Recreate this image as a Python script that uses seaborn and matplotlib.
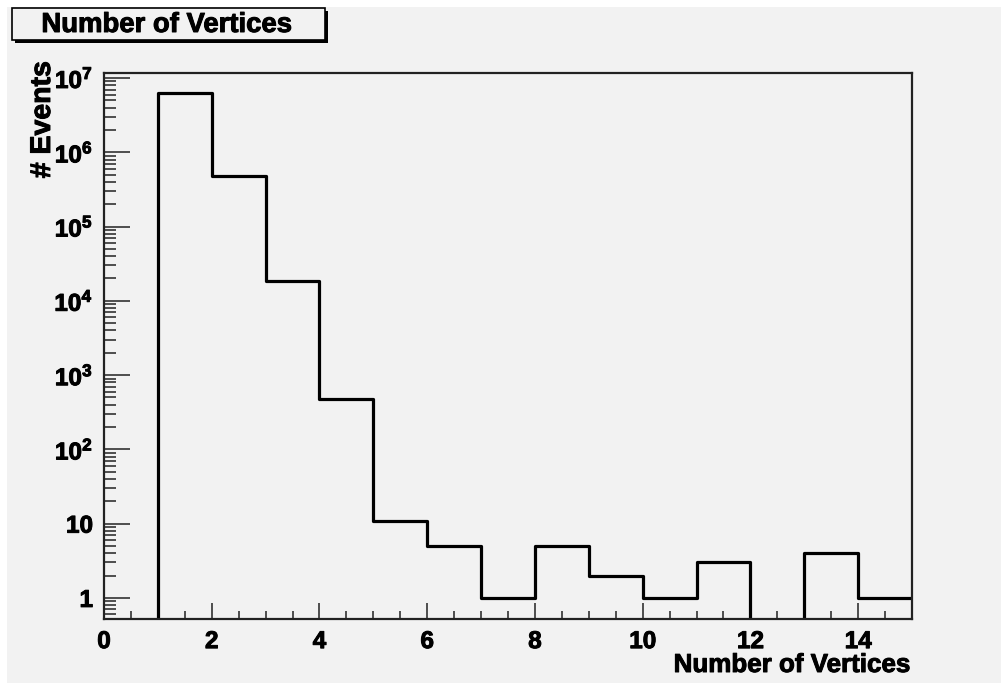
import matplotlib
matplotlib.use("Agg")
import matplotlib.pyplot as plt
from matplotlib.patches import Rectangle
import matplotlib.patheffects as pe
from matplotlib.ticker import FixedLocator, MultipleLocator, LogLocator, NullFormatter, FixedFormatter
import seaborn as sns
import numpy as np

# ---- data ----
bin_edges = list(range(16))
bin_counts = [0, 6270000, 479000, 18500, 477, 11, 5, 1, 5, 2, 1, 3, 0, 4, 1]
x_ticks = [0, 2, 4, 6, 8, 10, 12, 14]
y_ticks = [1, 10, 1e2, 1e3, 1e4, 1e5, 1e6, 1e7]
y_tick_labels = ["1", "10", "$10^{2}$", "$10^{3}$", "$10^{4}$", "$10^{5}$", "$10^{6}$", "$10^{7}$"]
title_text = "Number of Vertices"
x_label = "Number of Vertices"
y_label = "# Events"

sns.set_style("ticks")
plt.rcParams["font.family"] = ["Liberation Sans", "DejaVu Sans"]
plt.rcParams["font.weight"] = "bold"
plt.rcParams["text.color"] = "black"
plt.rcParams["xtick.color"] = "black"
plt.rcParams["ytick.color"] = "black"
plt.rcParams["xtick.labelcolor"] = "black"
plt.rcParams["ytick.labelcolor"] = "black"
plt.rcParams["mathtext.fontset"] = "custom"
plt.rcParams["mathtext.rm"] = "Liberation Sans:bold"
plt.rcParams["mathtext.bf"] = "Liberation Sans:bold"
plt.rcParams["mathtext.it"] = "Liberation Sans:bold"
plt.rcParams["mathtext.default"] = "bf"

heavy = [pe.withStroke(linewidth=0.7, foreground="black")]

W, H = 1001, 683
bg = "#f2f2f2"
fig = plt.figure(figsize=(W / 100, H / 100), dpi=100, facecolor="white")
# grey canvas
fig.patches.append(Rectangle((7 / W, 0), 1 - 7 / W, 1 - 7 / H, transform=fig.transFigure,
                             facecolor=bg, edgecolor="none", zorder=-10))

ax = fig.add_axes([104 / W, 1 - 619 / H, (912 - 104) / W, (619 - 73) / H])
ax.set_zorder(5)
ax.set_facecolor(bg)

centers = [e + 0.5 for e in bin_edges[:-1]]
sns.histplot(x=centers, weights=bin_counts, bins=bin_edges, element="step", fill=False,
             color="black", linewidth=2.3, ax=ax)
ax.set_yscale("log")
ax.set_xlim(0, 15)
ax.set_ylim(0.52, 1.17e7)

for s in ax.spines.values():
    s.set_linewidth(1.6)
    s.set_color("#222222")

ax.xaxis.set_major_locator(FixedLocator(x_ticks))
ax.xaxis.set_minor_locator(MultipleLocator(0.5))
ax.yaxis.set_major_locator(FixedLocator(y_ticks))
ax.yaxis.set_major_formatter(FixedFormatter(y_tick_labels))
ax.yaxis.set_minor_locator(LogLocator(base=10, subs=np.arange(2, 10)))
ax.yaxis.set_minor_formatter(NullFormatter())
ax.set_xticklabels([str(t) for t in x_ticks])

ax.tick_params(axis="both", which="both", direction="in", top=False, right=False,
               labelsize=17.5, width=1.1, color="#222222", labelcolor="black")
ax.tick_params(axis="y", which="major", length=18.5, pad=8)
ax.tick_params(axis="y", which="minor", length=8.5)
ax.tick_params(axis="x", which="major", length=11.5, pad=8)
ax.tick_params(axis="x", which="minor", length=5.5)
for lab in ax.get_xticklabels() + ax.get_yticklabels():
    lab.set_fontweight("bold")
    lab.set_path_effects(heavy)

ax.set_xlabel("")
ax.set_ylabel("")
fig.text(911 / W, 1 - 665 / H, x_label, ha="right", va="center", fontsize=18.7,
         fontweight="bold", path_effects=heavy)
fig.text(43 / W, 1 - 61 / H, y_label, ha="center", va="top", rotation=90, fontsize=20.5,
         fontweight="bold", path_effects=heavy)

# title box with shadow
bx0, by0, bx1, by1 = 12, 8, 325, 40
fig.patches.append(Rectangle(((bx0 + 3) / W, 1 - (by1 + 3) / H), (bx1 - bx0) / W, (by1 - by0) / H,
                             transform=fig.transFigure, facecolor="black", edgecolor="none", zorder=1))
fig.patches.append(Rectangle((bx0 / W, 1 - by1 / H), (bx1 - bx0) / W, (by1 - by0) / H,
                             transform=fig.transFigure, facecolor=bg, edgecolor="black", linewidth=1.2, zorder=2))
fig.text(167 / W, 1 - 25 / H, title_text, ha="center", va="center", fontsize=19.8,
         fontweight="bold", zorder=3, path_effects=heavy)

fig.savefig("out.png", dpi=100, facecolor="white")
